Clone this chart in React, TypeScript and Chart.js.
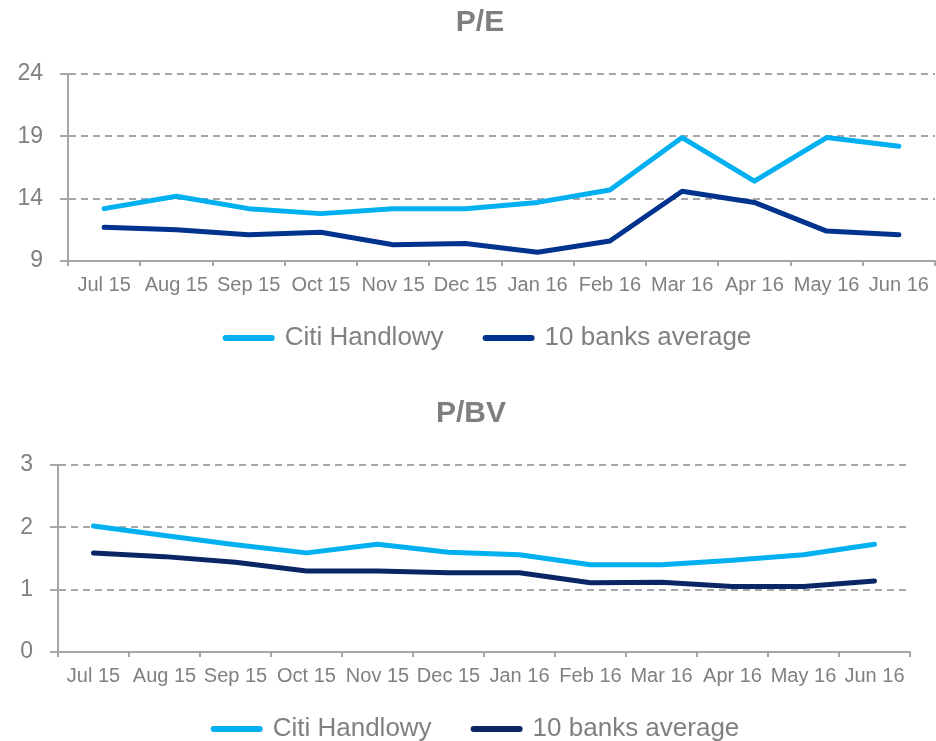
import React, { useEffect, useRef } from "react";
import { Chart, registerables } from "chart.js";

Chart.register(...registerables);

const months = ["Jul 15", "Aug 15", "Sep 15", "Oct 15", "Nov 15", "Dec 15", "Jan 16", "Feb 16", "Mar 16", "Apr 16", "May 16", "Jun 16"];
const seriesNames = ["Citi Handlowy", "10 banks average"];

const peCiti = [13.2, 14.2, 13.2, 12.8, 13.2, 13.2, 13.7, 14.7, 18.9, 15.4, 18.9, 18.2];
const peAvg = [11.7, 11.5, 11.1, 11.3, 10.3, 10.4, 9.7, 10.6, 14.6, 13.7, 11.4, 11.1];
const peTicks = [9, 14, 19, 24];

const pbvCiti = [2.02, 1.87, 1.72, 1.59, 1.73, 1.6, 1.56, 1.4, 1.4, 1.47, 1.56, 1.73];
const pbvAvg = [1.59, 1.53, 1.44, 1.3, 1.3, 1.27, 1.27, 1.11, 1.12, 1.05, 1.05, 1.14];
const pbvTicks = [0, 1, 2, 3];

const FONT = "'Liberation Sans', Arial, Helvetica, sans-serif";
const GRAY_TEXT = "#808080";
const GRID = "#A6A6A6";
const LIGHT = "#00B0F0";
const CANVAS_H = 382;

type Cfg = {
  title: string;
  a: number[];
  b: number[];
  ticks: number[];
  darkColor: string;
  yWidth: number;
  padRight: number;
  legendLeft: number;
  titleCenter: number;
};

function LineChart({ cfg, top }: { cfg: Cfg; top: number }) {
  const ref = useRef<HTMLCanvasElement | null>(null);
  useEffect(() => {
    if (!ref.current) return;
    const min = cfg.ticks[0];
    const max = cfg.ticks[cfg.ticks.length - 1];
    const step = cfg.ticks[1] - cfg.ticks[0];
    const tweak = {
      id: "layoutTweak",
      afterLayout(chart: any) {
        const lg = chart.legend;
        if (lg) {
          const h = lg.height;
          lg.top = chart.chartArea.bottom + 22;
          lg.bottom = lg.top + h;
          lg.left = cfg.legendLeft;
        }
        const tb = chart.titleBlock;
        if (tb) {
          const half = 200;
          tb.left = cfg.titleCenter - half;
          tb.right = cfg.titleCenter + half;
        }
      },
    };
    const chart = new Chart(ref.current, {
      type: "line",
      data: {
        labels: months,
        datasets: [
          {
            label: seriesNames[0],
            data: cfg.a,
            borderColor: LIGHT,
            backgroundColor: LIGHT,
            borderWidth: 5,
            borderCapStyle: "round",
            borderJoinStyle: "round",
            pointRadius: 0,
            tension: 0,
          },
          {
            label: seriesNames[1],
            data: cfg.b,
            borderColor: cfg.darkColor,
            backgroundColor: cfg.darkColor,
            borderWidth: 5,
            borderCapStyle: "round",
            borderJoinStyle: "round",
            pointRadius: 0,
            tension: 0,
          },
        ],
      },
      plugins: [tweak],
      options: {
        responsive: false,
        animation: false,
        devicePixelRatio: 1,
        layout: { padding: { left: 0, right: cfg.padRight, top: 0, bottom: 0 } },
        plugins: {
          tooltip: { enabled: false },
          title: {
            display: true,
            text: cfg.title,
            color: "#7F7F7F",
            font: { family: FONT, size: 30, weight: "bold" },
            padding: { top: 5, bottom: 33 },
          },
          legend: {
            position: "bottom",
            labels: {
              usePointStyle: true,
              pointStyleWidth: 46,
              padding: 42,
              color: GRAY_TEXT,
              font: { family: FONT, size: 26 },
              generateLabels: (ch: any) =>
                ch.data.datasets.map((ds: any, i: number) => ({
                  text: ds.label,
                  pointStyle: "line",
                  strokeStyle: ds.borderColor,
                  fillStyle: ds.borderColor,
                  lineWidth: 6,
                  lineCap: "round",
                  fontColor: GRAY_TEXT,
                  datasetIndex: i,
                  hidden: false,
                })),
            },
          },
        },
        scales: {
          x: {
            offset: true,
            grid: {
              offset: true,
              drawOnChartArea: false,
              drawTicks: true,
              tickLength: 5,
              color: GRID,
              lineWidth: 2,
            },
            border: { color: GRID, width: 2 },
            ticks: {
              color: GRAY_TEXT,
              font: { family: FONT, size: 20 },
              padding: 7,
              maxRotation: 0,
              autoSkip: false,
            },
          },
          y: {
            min,
            max,
            afterBuildTicks: (s: any) => {
              s.ticks = cfg.ticks.map((v) => ({ value: v }));
            },
            ticks: {
              stepSize: step,
              color: GRAY_TEXT,
              font: { family: FONT, size: 23 },
              padding: 17,
            },
            grid: {
              color: GRID,
              lineWidth: 2,
              drawTicks: true,
              tickLength: 8,
              tickColor: GRID,
              tickWidth: 2,
            },
            border: { color: GRID, width: 2, dash: [7, 5] },
            afterFit: (s: any) => {
              s.width = cfg.yWidth;
            },
          },
        },
      },
    } as any);
    return () => chart.destroy();
  }, [cfg]);
  return (
    <canvas
      ref={ref}
      width={936}
      height={CANVAS_H}
      style={{ position: "absolute", left: 0, top, width: 936, height: CANVAS_H, display: "block" }}
    />
  );
}

const peCfg: Cfg = { title: "P/E", a: peCiti, b: peAvg, ticks: peTicks, darkColor: "#00338D", yWidth: 68, padRight: 1, legendLeft: 42, titleCenter: 480 };
const pbvCfg: Cfg = { title: "P/BV", a: pbvCiti, b: pbvAvg, ticks: pbvTicks, darkColor: "#0B2665", yWidth: 58, padRight: 26, legendLeft: 43, titleCenter: 471 };

export default function App() {
  return (
    <div
      style={{
        position: "absolute",
        left: 0,
        top: 0,
        width: 936,
        height: 741,
        overflow: "hidden",
        background: "#FFFFFF",
      }}
    >
      <LineChart cfg={peCfg} top={0} />
      <LineChart cfg={pbvCfg} top={391} />
    </div>
  );
}
